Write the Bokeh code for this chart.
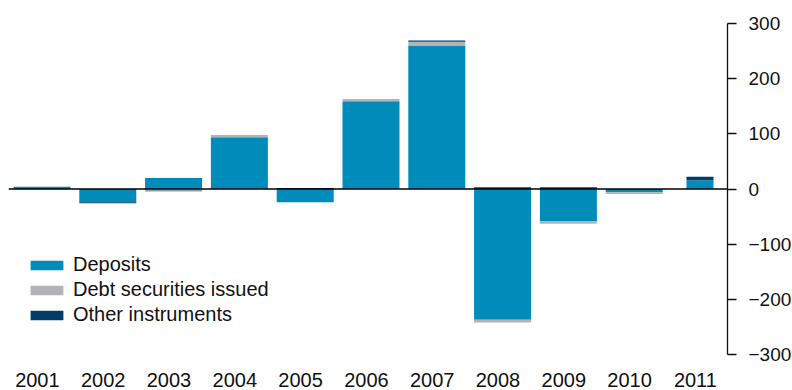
from bokeh.plotting import figure
from bokeh.models import (ColumnDataSource, Range1d, FixedTicker, Span, Legend, LegendItem)
from bokeh.embed import file_html
from bokeh.resources import INLINE

years = ["2001", "2002", "2003", "2004", "2005", "2006", "2007", "2008", "2009", "2010", "2011"]
deposits = [4, -24, 20, 94, -24, 159, 260, -237, -58, -6, 16]
debt_securities = [0, 0, -3, 4, 0, 4, 7, -5, -5, -3, 0]
other_instruments = [0, -2, -1, 0, 2, 0, 2, 3, 3, 0, 6]
bar_widths = [0.866] * 10 + [0.41]
y_ticks = [-300, -200, -100, 0, 100, 200, 300]

series = [
    ("Deposits", deposits, "#008cba"),
    ("Debt securities issued", debt_securities, "#b1b3b6"),
    ("Other instruments", other_instruments, "#003d6b"),
]

xs = [int(y) for y in years]

p = figure(frame_width=719, frame_height=331,
           x_range=Range1d(2000.491, 2011.418), y_range=Range1d(-300, 300),
           y_axis_location="right", output_backend="svg", toolbar_location=None,
           min_border=0, min_border_top=23, min_border_left=8)
p.outline_line_color = None
p.xgrid.visible = False
p.ygrid.visible = False
p.background_fill_color = "white"

pos_base = [0.0] * len(xs)
neg_base = [0.0] * len(xs)
items = []
for name, vals, color in series:
    bottoms, tops = [], []
    for i, v in enumerate(vals):
        if v >= 0:
            b, t = pos_base[i], pos_base[i] + v
            pos_base[i] = t
        else:
            b, t = neg_base[i], neg_base[i] + v
            neg_base[i] = t
        bottoms.append(b)
        tops.append(t)
    src = ColumnDataSource(dict(x=xs, bottom=bottoms, top=tops, w=bar_widths))
    r = p.vbar(x="x", width="w", bottom="bottom", top="top", source=src,
               fill_color=color, line_color=None)
    items.append(LegendItem(label=name, renderers=[r]))

p.add_layout(Span(location=0, dimension="width", line_color="black", line_width=1.6))

# x axis
xa = p.xaxis[0]
offs = 0.07
xa.ticker = FixedTicker(ticks=[x - offs for x in xs])
xa.major_label_overrides = {x - offs: y for x, y in zip(xs, years)}
xa.axis_line_color = None
xa.major_tick_line_color = None
xa.minor_tick_line_color = None
xa.major_label_standoff = 12
xa.major_label_text_font = "Liberation Sans"
xa.major_label_text_font_size = "20px"
xa.major_label_text_color = "#111111"

# y axis
ya = p.yaxis[0]
ya.ticker = FixedTicker(ticks=y_ticks)
ya.major_label_overrides = {t: (str(t).replace("-", "\u2212")) for t in y_ticks}
ya.axis_line_color = "#111111"
ya.axis_line_width = 1.3
ya.major_tick_line_color = "#111111"
ya.major_tick_line_width = 1.3
ya.major_tick_in = 0
ya.major_tick_out = 9
ya.minor_tick_line_color = None
ya.major_label_standoff = 12
ya.major_label_text_align = "right"
ya.major_label_text_font = "Liberation Sans"
ya.major_label_text_font_size = "19px"
ya.major_label_text_color = "#111111"

legend = Legend(items=items, location=(18, 27), orientation="vertical",
                glyph_width=41, glyph_height=12, label_standoff=6,
                label_height=25, spacing=0, padding=0, margin=0,
                border_line_color=None, background_fill_alpha=0,
                label_text_font="Liberation Sans", label_text_font_size="20px",
                label_text_color="#111111")
p.add_layout(legend, "center")

open("out.html", "w").write(file_html(p, INLINE))
